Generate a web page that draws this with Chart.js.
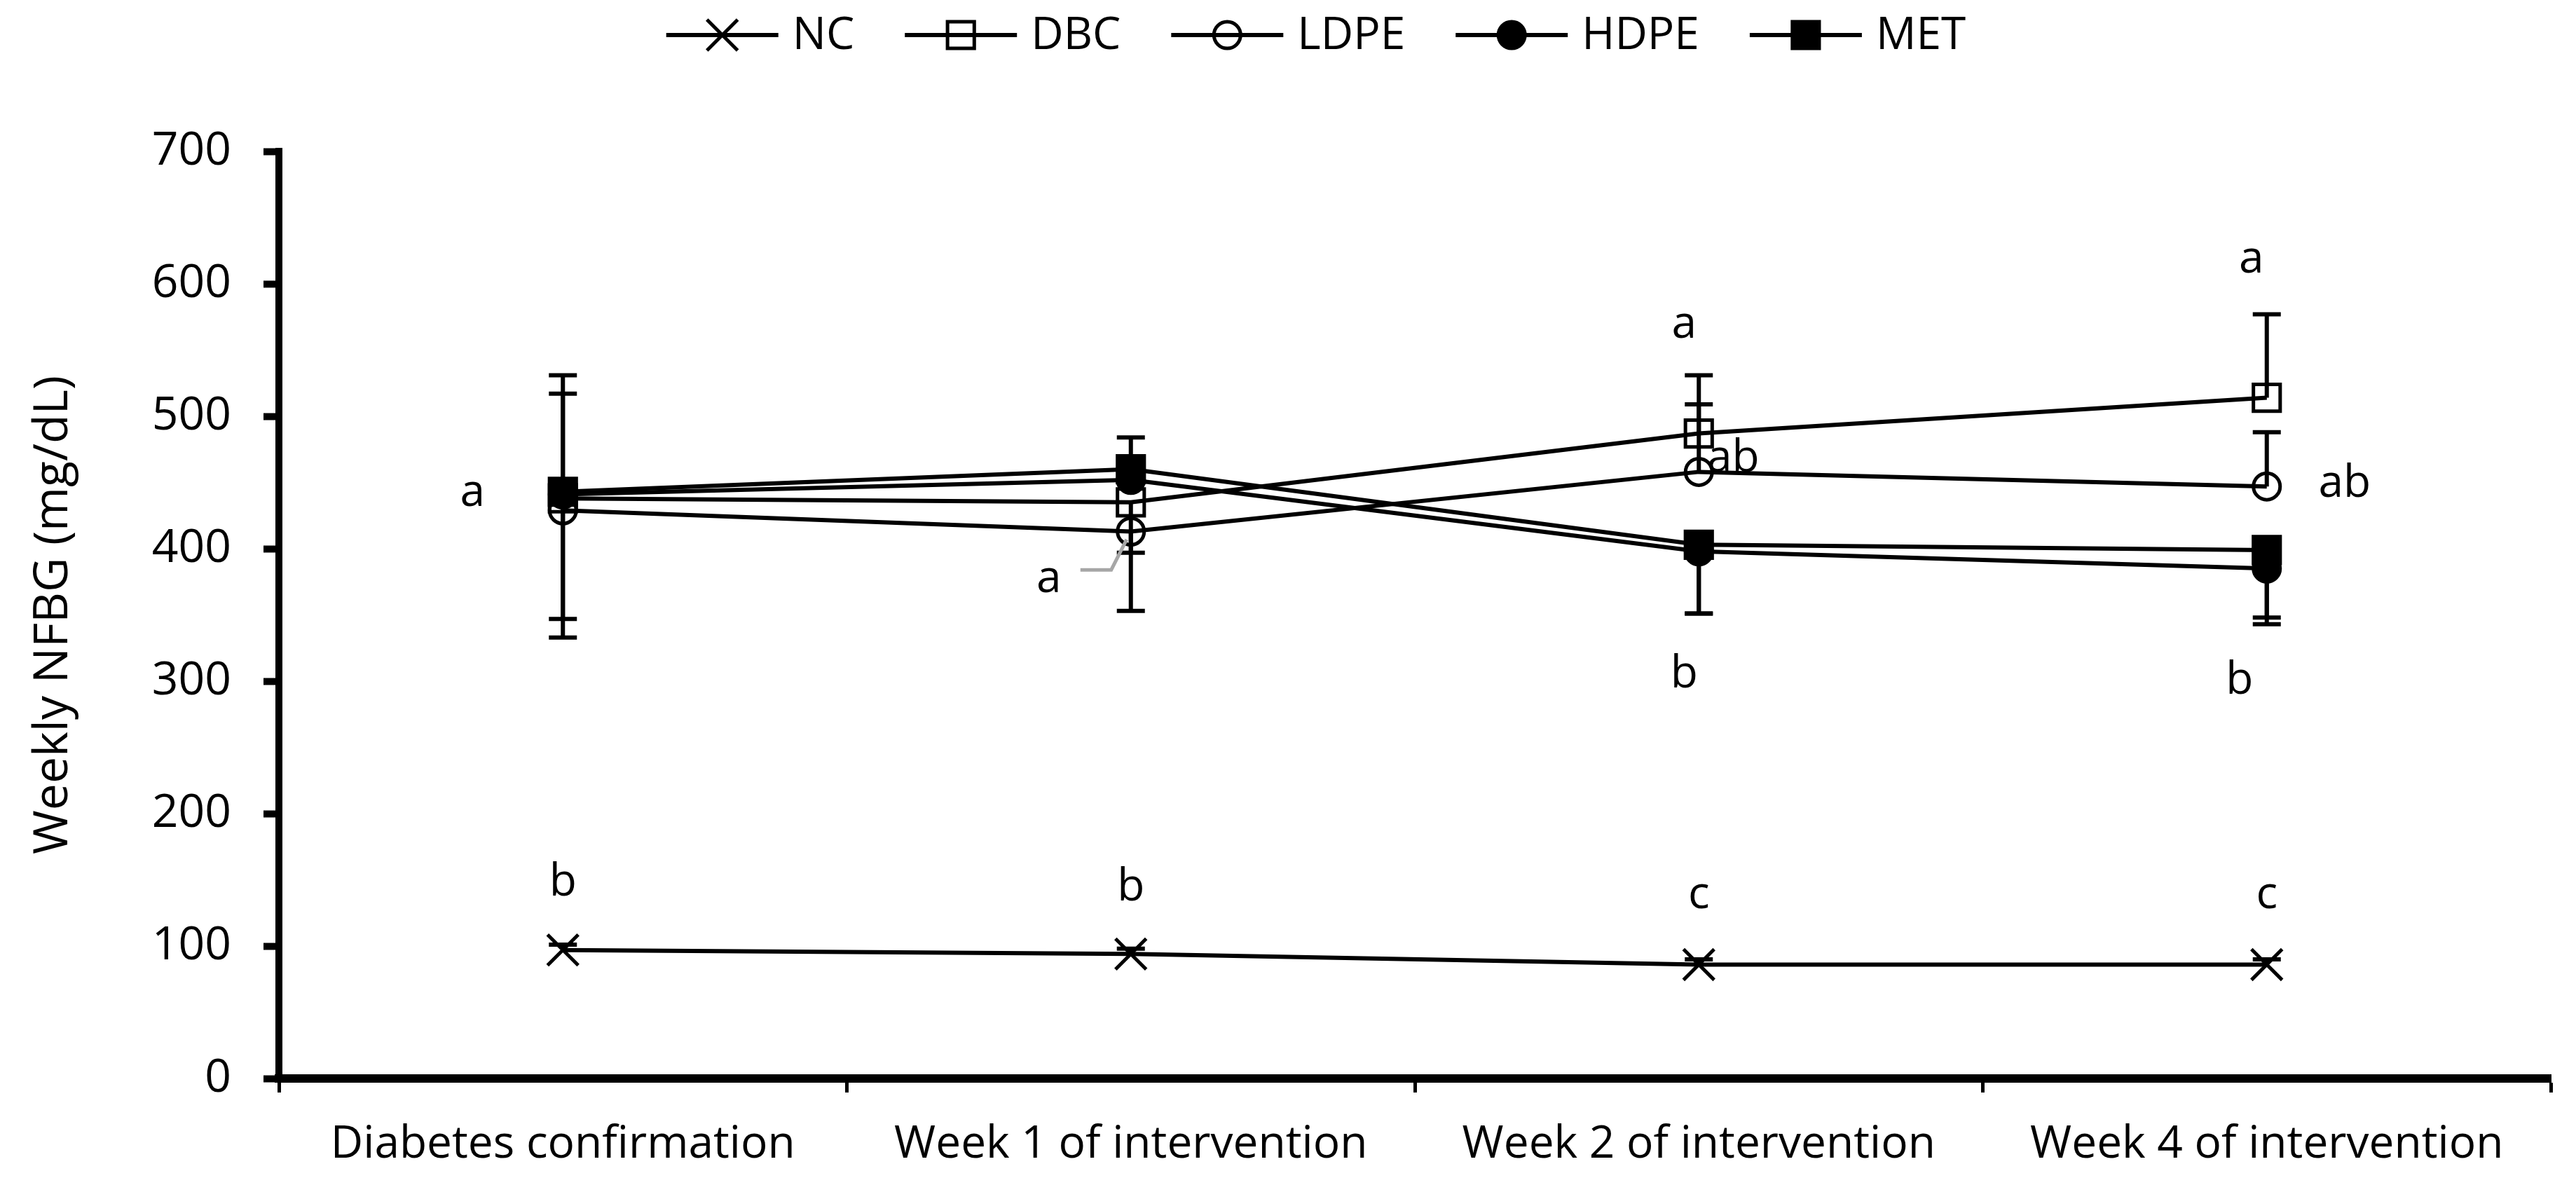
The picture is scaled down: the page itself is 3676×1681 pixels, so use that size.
<!DOCTYPE html>
<html>
<head>
<meta charset="utf-8">
<script src="https://cdn.jsdelivr.net/npm/chart.js@4/dist/chart.umd.min.js"></script>
<style>
  body { margin: 0; background: #fff; }
  canvas { display: block; }
</style>
</head>
<body>
<canvas id="chart" width="3676" height="1681"></canvas>
<script>
//Data
const categories = ["Diabetes confirmation", "Week 1 of intervention", "Week 2 of intervention", "Week 4 of intervention"];
const yTicks = [0, 100, 200, 300, 400, 500, 600, 700];

const nc   = [97, 94, 86, 86];
const dbc  = [438, 435, 487, 514];
const ldpe = [429, 413, 458, 447];
const hdpe = [441, 452, 398, 385];
const met  = [443, 460, 403, 399];

//Error bars (plus / minus), 0 = not visible
const ncErrUp     = [4, 4, 4, 4];
const ncErrDown   = [0, 0, 0, 0];
const dbcErrUp    = [93, 0, 44, 63];
const dbcErrDown  = [91, 38, 0, 0];
const ldpeErrUp   = [88, 0, 51, 41];
const ldpeErrDown = [96, 60, 0, 0];
const hdpeErrUp   = [0, 0, 0, 0];
const hdpeErrDown = [0, 0, 47, 42];
const metErrUp    = [0, 24, 0, 0];
const metErrDown  = [0, 0, 52, 51];

//Significance letters: text, category index, value it sits at
const letterText  = ["a", "b", "b", "c", "c", "a", "a", "ab", "b", "a", "ab", "b"];
const letterCat   = [0, 0, 1, 2, 3, 1, 2, 2, 2, 3, 3, 3];
const letterValue = [442, 148, 144, 138, 138, 377, 569, 468, 305, 618, 449, 300];

//pixel nudges for the letters (layout only)
const letterDx = [-129, 0, 0, 0, 0, -117, -21, 49, -21, -22, 111, -39];

const FONT = "'Open Sans', 'DejaVu Sans', sans-serif";

function series(label, data, up, down, style, radius, fillColor){
    return {
        label: label,
        data: data,
        errUp: up,
        errDown: down,
        borderColor: "#000",
        borderWidth: 6,
        fill: false,
        tension: 0,
        pointStyle: style,
        pointRadius: radius,
        pointHoverRadius: radius,
        pointBorderWidth: 5,
        pointBorderColor: "#000",
        pointBackgroundColor: fillColor,
        clip: false
    };
}

const extras = {
    id: "extras",
    afterDatasetsDraw(chart){
        //Error bars drawn on top, like the original
        const c = chart.ctx;
        const xs = chart.scales.x, ys = chart.scales.y;
        c.save();
        c.strokeStyle = "#000";
        c.lineWidth = 6;
        chart.data.datasets.forEach(ds => {
            ds.data.forEach((v, j) => {
                const x = xs.getPixelForValue(j);
                const y0 = ys.getPixelForValue(v);
                [[ds.errUp[j], 1], [ds.errDown[j], -1]].forEach(([e, sgn]) => {
                    if(!e) return;
                    const y1 = ys.getPixelForValue(v + sgn * e);
                    c.beginPath();
                    c.moveTo(x, y0); c.lineTo(x, y1);
                    c.moveTo(x - 20, y1); c.lineTo(x + 20, y1);
                    c.stroke();
                });
            });
        });
        c.restore();
    },
    afterDraw(chart){
        const c = chart.ctx;
        const xs = chart.scales.x, ys = chart.scales.y;
        c.save();
        //Letters
        c.fillStyle = "#000";
        c.font = "64px " + FONT;
        c.textAlign = "center";
        c.textBaseline = "middle";
        for(let i = 0; i < letterText.length; i++){
            const x = xs.getPixelForValue(letterCat[i]) + letterDx[i];
            const y = ys.getPixelForValue(letterValue[i]);
            c.fillText(letterText[i], x, y);
        }
        //grey leader line for the week 1 "a"
        const cx = xs.getPixelForValue(1);
        c.strokeStyle = "#a6a6a6";
        c.lineWidth = 5;
        c.beginPath();
        c.moveTo(cx - 72, ys.getPixelForValue(384));
        c.lineTo(cx - 28, ys.getPixelForValue(384));
        c.lineTo(cx - 6, ys.getPixelForValue(407));
        c.stroke();

        //Legend: line with marker through the middle, then the name
        c.font = "64px " + FONT;
        c.textAlign = "left";
        const lineLen = 160, gap = 20, space = 72;
        const items = chart.data.datasets;
        let total = 0;
        items.forEach(ds => { total += lineLen + gap + c.measureText(ds.label).width; });
        total += space * (items.length - 1);
        let x = chart.width / 2 + 40 - total / 2;
        const ly = 50;
        items.forEach(ds => {
            c.strokeStyle = "#000";
            c.lineWidth = 6;
            c.beginPath();
            c.moveTo(x, ly); c.lineTo(x + lineLen, ly);
            c.stroke();
            c.lineWidth = 5;
            c.fillStyle = ds.pointBackgroundColor;
            Chart.helpers.drawPoint(c, {
                pointStyle: ds.pointStyle,
                radius: ds.pointRadius,
                rotation: 0,
                borderWidth: ds.pointBorderWidth
            }, x + lineLen / 2, ly);
            c.fillStyle = "#000";
            c.fillText(ds.label, x + lineLen + gap, ly + 2);
            x += lineLen + gap + c.measureText(ds.label).width + space;
        });
        c.restore();
    }
};

const chart_ctx = document.getElementById("chart").getContext("2d");
const chrt = new Chart(chart_ctx, {
    type: "line",
    data: {
        labels: categories,
        datasets: [
            series("NC", nc, ncErrUp, ncErrDown, "crossRot", 31, "#000"),
            series("DBC", dbc, dbcErrUp, dbcErrDown, "rect", 27, "rgba(0,0,0,0)"),
            series("LDPE", ldpe, ldpeErrUp, ldpeErrDown, "circle", 19, "rgba(0,0,0,0)"),
            series("HDPE", hdpe, hdpeErrUp, hdpeErrDown, "circle", 19, "#000"),
            series("MET", met, metErrUp, metErrDown, "rect", 27, "#000")
        ]
    },
    options: {
        responsive: false,
        devicePixelRatio: 1,
        animation: false,
        layout: { padding: { top: 216, right: 24, bottom: 0, left: 0 } },
        plugins: {
            legend: { display: false },
            tooltip: { enabled: false }
        },
        scales: {
            x: {
                type: "category",
                offset: true,
                afterFit: s => { s.height = 142; },
                grid: {
                    offset: true,
                    drawOnChartArea: false,
                    drawTicks: true,
                    tickLength: 20,
                    tickWidth: 5,
                    tickColor: "#000"
                },
                border: { display: true, color: "#000", width: 12 },
                ticks: {
                    color: "#000",
                    padding: 36,
                    maxRotation: 0,
                    autoSkip: false,
                    font: { family: FONT, size: 64 }
                }
            },
            y: {
                min: 0,
                max: 700,
                afterFit: s => { s.width = 398; },
                afterBuildTicks: s => { s.ticks = yTicks.map(v => ({ value: v })); },
                grid: {
                    drawOnChartArea: false,
                    tickLength: 22,
                    tickWidth: 10,
                    tickColor: "#000"
                },
                border: { display: true, color: "#000", width: 10 },
                ticks: {
                    color: "#000",
                    padding: 46,
                    font: { family: FONT, size: 66 }
                },
                title: {
                    display: true,
                    text: "Weekly NFBG (mg/dL)",
                    color: "#000",
                    padding: { top: 36, bottom: 0 },
                    font: { family: FONT, size: 68 }
                }
            }
        }
    },
    plugins: [extras]
});
</script>
</body>
</html>
